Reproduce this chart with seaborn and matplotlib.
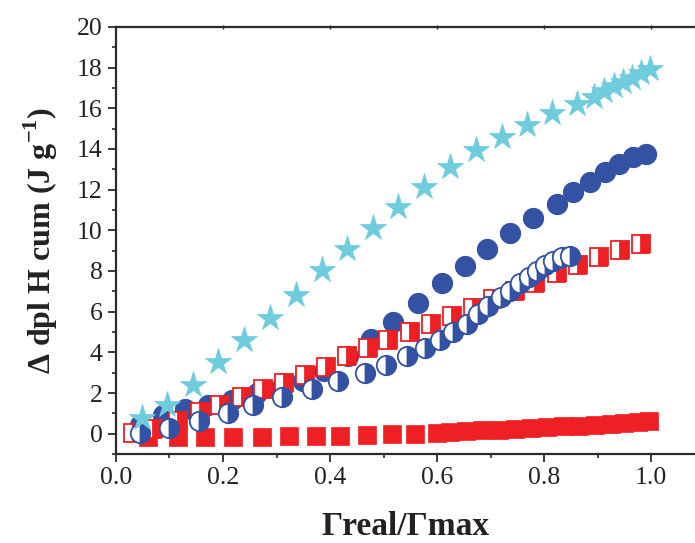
import matplotlib
matplotlib.use("Agg")
import matplotlib.pyplot as plt
from matplotlib.ticker import MultipleLocator
import seaborn as sns

# ---- data ----
star_x = [0.049, 0.095, 0.143, 0.19, 0.24, 0.288, 0.336, 0.385, 0.432, 0.48, 0.527, 0.576,
          0.624, 0.673, 0.721, 0.768, 0.815, 0.862, 0.893, 0.912, 0.93, 0.948, 0.965, 0.982, 0.998]
star_y = [0.75, 1.4, 2.4, 3.5, 4.6, 5.7, 6.8, 8.05, 9.1, 10.1, 11.15, 12.15,
          13.1, 13.95, 14.6, 15.2, 15.75, 16.2, 16.55, 16.85, 17.1, 17.3, 17.5, 17.75, 17.95]

circ_x = [0.045, 0.088, 0.129, 0.172, 0.216, 0.263, 0.306, 0.35, 0.389, 0.434, 0.477, 0.518,
          0.564, 0.609, 0.652, 0.693, 0.736, 0.779, 0.824, 0.854, 0.886, 0.914, 0.94, 0.966, 0.99]
circ_y = [0.45, 0.93, 1.2, 1.4, 1.65, 2.0, 2.2, 2.6, 3.1, 3.8, 4.65, 5.5,
          6.45, 7.4, 8.25, 9.1, 9.85, 10.6, 11.3, 11.9, 12.4, 12.85, 13.25, 13.6, 13.75]

hcirc_x = [0.044, 0.1, 0.155, 0.21, 0.256, 0.31, 0.366, 0.415, 0.465, 0.505, 0.544, 0.578,
           0.606, 0.63, 0.656, 0.677, 0.695, 0.72, 0.736, 0.755, 0.772, 0.787, 0.802, 0.817,
           0.834, 0.849]
hcirc_y = [0.05, 0.3, 0.62, 1.0, 1.42, 1.8, 2.2, 2.6, 3.0, 3.4, 3.8, 4.2,
           4.6, 5.0, 5.4, 5.9, 6.3, 6.7, 7.0, 7.4, 7.7, 8.0, 8.3, 8.5,
           8.7, 8.75]

hsq_x = [0.032, 0.069, 0.116, 0.157, 0.194, 0.235, 0.275, 0.314, 0.353, 0.393, 0.432, 0.471,
         0.508, 0.55, 0.589, 0.628, 0.667, 0.705, 0.746, 0.783, 0.824, 0.864, 0.903, 0.942, 0.981]
hsq_y = [0.05, 0.25, 0.6, 1.05, 1.4, 1.78, 2.2, 2.5, 2.9, 3.3, 3.8, 4.2,
         4.6, 5.0, 5.4, 5.8, 6.2, 6.6, 7.0, 7.4, 7.9, 8.3, 8.7, 9.05, 9.35]

sq_x = [0.06, 0.116, 0.166, 0.219, 0.273, 0.323, 0.374, 0.419, 0.469, 0.516, 0.559, 0.60,
        0.625, 0.655, 0.685, 0.715, 0.745, 0.775, 0.805, 0.835, 0.865, 0.895, 0.925, 0.95,
        0.975, 0.996]
sq_y = [-0.15, -0.15, -0.15, -0.15, -0.15, -0.1, -0.1, -0.1, -0.05, 0.0, 0.0, 0.05,
        0.1, 0.13, 0.17, 0.2, 0.24, 0.28, 0.32, 0.36, 0.40, 0.44, 0.49, 0.53,
        0.58, 0.63]

x_ticks = [0.0, 0.2, 0.4, 0.6, 0.8, 1.0]
x_tick_labels = ["0.0", "0.2", "0.4", "0.6", "0.8", "1.0"]
x_label = "Γreal/Γmax"
y_label = "Δ dpl H cum (J g$^{\\mathbf{-1}}$)"

# ---- style ----
sns.set_style("ticks")
plt.rcParams["font.family"] = ["Liberation Serif", "DejaVu Serif"]
plt.rcParams["mathtext.fontset"] = "custom"
plt.rcParams["mathtext.rm"] = "Liberation Serif"
plt.rcParams["mathtext.bf"] = "Liberation Serif:bold"

BLUE = "#3452A4"
RED = "#EE2024"
CYAN = "#6FCCDD"
AX = "#2b2b2b"

fig = plt.figure(figsize=(6.95, 5.43), dpi=100)
ax = fig.add_axes([0.1669, 0.1639, 0.8331, 0.7864])

common = dict(ax=ax, estimator=None, sort=False, linestyle="none", legend=False)

sns.lineplot(x=circ_x, y=circ_y, marker="o", markersize=14.5, color=BLUE,
             markerfacecolor=BLUE, markeredgecolor=BLUE, markeredgewidth=0.8,
             zorder=3, **common)
sns.lineplot(x=sq_x, y=sq_y, marker="s", markersize=12.8, color=RED,
             markerfacecolor=RED, markeredgecolor=RED, markeredgewidth=0.5,
             zorder=4, **common)
sns.lineplot(x=hsq_x, y=hsq_y, marker="s", markersize=12.8, color=RED,
             fillstyle="right", markerfacecolor=RED, markerfacecoloralt="white",
             markeredgecolor=RED, markeredgewidth=1.3, zorder=5, **common)
sns.lineplot(x=hcirc_x, y=hcirc_y, marker="o", markersize=14.0, color=BLUE,
             fillstyle="right", markerfacecolor=BLUE, markerfacecoloralt="white",
             markeredgecolor=BLUE, markeredgewidth=1.3, zorder=6, **common)
sns.lineplot(x=star_x, y=star_y, marker="*", markersize=20, color=CYAN,
             markerfacecolor=CYAN, markeredgecolor=CYAN, markeredgewidth=0.5,
             zorder=7, **common)

ax.set_xlim(0, 1.0822)
ax.set_ylim(-1, 20)
ax.xaxis.set_minor_locator(MultipleLocator(0.1))
ax.yaxis.set_major_locator(MultipleLocator(2))
ax.yaxis.set_minor_locator(MultipleLocator(1))
ax.set_xticks(x_ticks)
ax.set_xticklabels(x_tick_labels)

ax.spines["right"].set_visible(False)
for s in ["left", "bottom", "top"]:
    ax.spines[s].set_linewidth(1.6)
    ax.spines[s].set_color(AX)

ax.tick_params(axis="both", which="major", direction="out", length=5.5, width=1.3,
               color=AX, labelsize=18.5, labelcolor="#222222", pad=4)
ax.tick_params(axis="both", which="minor", direction="out", length=3, width=1.2, color=AX)
ax.tick_params(axis="x", which="both", top=False)

sec = ax.secondary_xaxis("top")
sec.set_xticks(x_ticks[1:])
sec.tick_params(axis="x", which="major", direction="inout", length=3, width=1.0,
                color=AX, labeltop=False)
sec.spines["top"].set_visible(False)

ax.set_xlabel(x_label, fontsize=24, fontweight="bold", color="#222222", labelpad=16)
ax.set_ylabel(y_label, fontsize=23, fontweight="bold", color="#222222", labelpad=12)

fig.savefig("out.png", dpi=100)
